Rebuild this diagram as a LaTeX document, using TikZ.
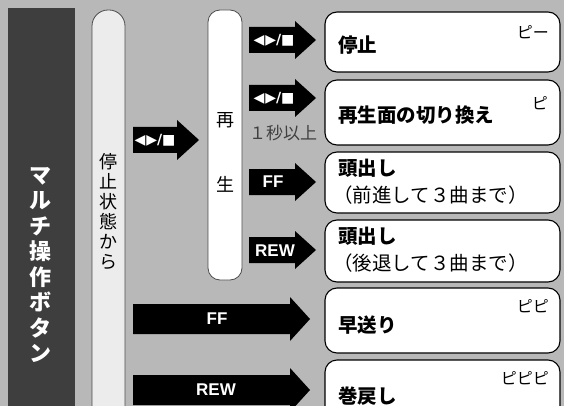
\documentclass[tikz,border=0pt]{standalone}
\usepackage{fontspec}
\newfontfamily\jp{Noto Sans CJK JP}
\newfontfamily\symf{DejaVu Sans}
\newfontfamily\latf{Liberation Sans}
\definecolor{bgc}{RGB}{184,184,184}
\definecolor{darkbar}{RGB}{62,62,62}
\definecolor{pillc}{RGB}{236,236,236}
\newcommand\fatarrow[6]{%
  \fill[black] (#1,{#4-#5}) -- (#2,{#4-#5}) -- (#2,{#4-#6}) -- (#3,#4) --
  (#2,{#4+#6}) -- (#2,{#4+#5}) -- (#1,{#4+#5}) -- cycle;}
\begin{document}
\begin{tikzpicture}[x=1pt,y=-1pt,
  box/.style={draw=black,line width=1.1pt,fill=white,rounded corners=12pt,
    minimum width=235pt,inner sep=0pt},
  pill/.style={draw=black!70,line width=0.8pt,inner sep=0pt},
  arrlbl/.style={text=white,font=\latf\bfseries\fontsize{17}{17}\selectfont,inner sep=0pt},
  symlbl/.style={text=white,font=\symf\bfseries\fontsize{14}{14}\selectfont,inner sep=0pt},
  mainlbl/.style={anchor=west,font=\jp\bfseries\fontsize{19.5}{22}\selectfont,inner sep=0pt},
  sublbl/.style={anchor=west,font=\jp\fontsize{19.5}{22}\selectfont,inner sep=0pt},
  beep/.style={anchor=east,font=\jp\fontsize{16}{16}\selectfont,inner sep=0pt},
  vert/.style={align=center,inner sep=0pt}
]
\useasboundingbox (0,0) rectangle (564,406);
\clip (0,0) rectangle (564,406);
\fill[bgc] (0,0) rectangle (564,406);

% left dark bar
\node[fill=darkbar,minimum width=67pt,minimum height=410pt,inner sep=0pt] (bar) at (41.5,213) {};
\node[vert,text=white,font=\jp\bfseries\fontsize{22}{25.5}\selectfont] (bartext) at (40,265)
  {マ\\ル\\チ\\操\\作\\ボ\\タ\\ン};

% stop-state pill
\node[pill,fill=pillc,rounded corners=16pt,minimum width=33pt,minimum height=430pt] (stop) at (108.5,225) {};
\node[vert,font=\jp\fontsize{18}{20}\selectfont] (stoptext) at (108.5,212)
  {停\\止\\状\\態\\か\\ら};

% play pill
\node[pill,fill=white,rounded corners=12pt,minimum width=34pt,minimum height=270pt] (play) at (225,145) {};
\node[font=\jp\fontsize{18}{18}\selectfont,inner sep=0pt] (playA) at (225,120) {再};
\node[font=\jp\fontsize{18}{18}\selectfont,inner sep=0pt] (playB) at (225,184) {生};

% arrows
\fatarrow{133}{177}{199}{140}{13}{20}
\node[symlbl] (a0) at (155,140) {◀\kern1pt▶/■};
\fatarrow{249}{295}{316}{40}{13}{19}
\node[symlbl] (a1) at (274,40) {◀\kern1pt▶/■};
\fatarrow{249}{295}{316}{98}{13}{19}
\node[symlbl] (a2) at (274,98) {◀\kern1pt▶/■};
\node[font=\jp\fontsize{17}{17}\selectfont,text=black!75,inner sep=0pt] (sec) at (283,133) {１秒以上};
\fatarrow{249}{295}{316}{182}{13}{19}
\node[arrlbl] (a3) at (273,182) {FF};
\fatarrow{249}{295}{316}{250}{13}{19}
\node[arrlbl] (a4) at (275,251) {REW};
\fatarrow{133}{290}{310}{319}{15}{22}
\node[arrlbl] (a5) at (217,319) {FF};
\fatarrow{133}{290}{310}{390}{15}{22}
\node[arrlbl] (a6) at (216,390) {REW};

% result boxes
\node[box,minimum height=60pt] (b1) at (442.5,42) {};
\node[mainlbl] (t1) at (338,45) {停止};
\node[beep] (p1) at (549,32) {ピー};
\node[box,minimum height=65pt] (b2) at (442.5,112.5) {};
\node[mainlbl] (t2) at (338,115) {再生面の切り換え};
\node[beep] (p2) at (548,103) {ピ};
\node[box,minimum height=61pt] (b3) at (442.5,182.5) {};
\node[mainlbl] (t3) at (338,168) {頭出し};
\node[sublbl] (s3) at (333,195) {（前進して３曲まで）};
\node[box,minimum height=62pt] (b4) at (442.5,251) {};
\node[mainlbl] (t4) at (338,236) {頭出し};
\node[sublbl] (s4) at (333,263) {（後退して３曲まで）};
\node[box,minimum height=65pt] (b5) at (442.5,320.5) {};
\node[mainlbl] (t5) at (338,325) {早送り};
\node[beep] (p5) at (549,306) {ピピ};
\node[box,minimum height=70pt] (b6) at (442.5,395) {};
\node[mainlbl] (t6) at (338,396) {巻戻し};
\node[beep] (p6) at (549,378) {ピピピ};
\end{tikzpicture}
\end{document}
